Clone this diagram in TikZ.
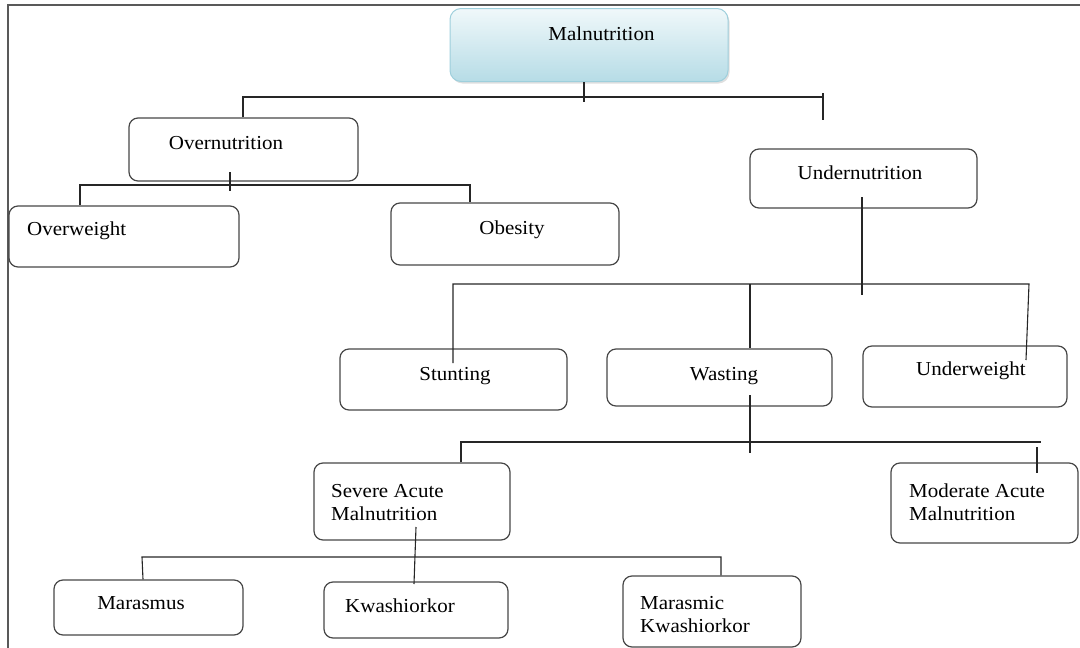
\documentclass[tikz,border=0pt]{standalone}
\usepackage{fontspec}
\setmainfont{Liberation Serif}[FakeStretch=1.06]
\usetikzlibrary{shadows}
\definecolor{topA}{HTML}{F0F8FA}
\definecolor{topB}{HTML}{B6DCE6}
\definecolor{topEdge}{HTML}{9ECFDC}
\begin{document}
\begin{tikzpicture}[x=1pt,y=-1pt,
  box/.style={draw=black!72, line width=1.2pt, rounded corners=9pt, fill=white, inner sep=0pt},
  topbox/.style={draw=topEdge, line width=1pt, rounded corners=11pt, inner sep=0pt,
     top color=topA, bottom color=topB,
     drop shadow={opacity=0.25, shadow xshift=1.5pt, shadow yshift=-2pt}},
  lbl/.style={inner sep=0pt, font=\fontsize{19.8}{23}\selectfont, align=left},
  conn/.style={line width=1.1pt, draw=black!85},
  frame/.style={line width=1.6pt, draw=black!65}]
\useasboundingbox (0,0) rectangle (1080,648);
\draw[frame] (8,648) -- (8,5) -- (1080,5);

% boxes
\node[topbox, minimum width=278pt, minimum height=73pt] (bMal) at (589,45) {};
\node[box, minimum width=229pt, minimum height=63pt] (bOver) at (243.5,149.5) {};
\node[box, minimum width=230pt, minimum height=61pt] (bOW) at (124,236.5) {};
\node[box, minimum width=228pt, minimum height=62pt] (bOb) at (505,234) {};
\node[box, minimum width=227pt, minimum height=59pt] (bUnder) at (863.5,178.5) {};
\node[box, minimum width=227pt, minimum height=61pt] (bStunt) at (453.5,379.5) {};
\node[box, minimum width=225pt, minimum height=57pt] (bWaste) at (719.5,377.5) {};
\node[box, minimum width=204pt, minimum height=61pt] (bUW) at (965,376.5) {};
\node[box, minimum width=196pt, minimum height=77pt] (bSAM) at (412,501.5) {};
\node[box, minimum width=187pt, minimum height=80pt] (bMAM) at (984.5,503) {};
\node[box, minimum width=189pt, minimum height=55pt] (bMaras) at (148.5,607.5) {};
\node[box, minimum width=184pt, minimum height=56pt] (bKwash) at (416,610) {};
\node[box, minimum width=178pt, minimum height=71pt] (bMK) at (712,611.5) {};

% labels
\node[lbl, anchor=base] (tMal) at (601.5,40) {Malnutrition};
\node[lbl, anchor=base] (tOver) at (226,149) {Overnutrition};
\node[lbl, anchor=base west] (tOW) at (27,235) {Overweight};
\node[lbl, anchor=base] (tOb) at (512,234) {Obesity};
\node[lbl, anchor=base] (tUnder) at (860,179) {Undernutrition};
\node[lbl, anchor=base] (tStunt) at (455,380) {Stunting};
\node[lbl, anchor=base] (tWaste) at (724,380) {Wasting};
\node[lbl, anchor=base] (tUW) at (971,375) {Underweight};
\node[lbl, anchor=base west] (tSAM) at (331,520) {Severe Acute\\Malnutrition};
\node[lbl, anchor=base west] (tMAM) at (909,520) {Moderate Acute\\Malnutrition};
\node[lbl, anchor=base] (tMaras) at (141,609) {Marasmus};
\node[lbl, anchor=base west] (tKwash) at (345,612) {Kwashiorkor};
\node[lbl, anchor=base west] (tMK) at (640,632) {Marasmic\\Kwashiorkor};

% junction coordinates
\coordinate (j1) at (584,97);
\coordinate (j2) at (230,185);
\coordinate (j3) at (862,284);
\coordinate (j4) at (750,442);
\coordinate (j5) at (416,557);

% Malnutrition branch
\draw[conn] (584,0 |- bMal.south) -- (584,102);
\draw[conn] (243,0 |- bOver.north) -- (243,97) -- (823,97);
\draw[conn] (823,93) -- (823,120);

% Overnutrition branch
\draw[conn] (230,172) -- (230,191);
\draw[conn] (80,0 |- bOW.north) -- (80,185) -- (470,185) -- (470,0 |- bOb.north);

% Undernutrition branch
\draw[conn] (862,197) -- (862,295);
\draw[conn] (453,363) -- (453,284) -- (1029,284) -- (1026,360);
\draw[conn] (750,284) -- (750,0 |- bWaste.north);

% Wasting branch
\draw[conn] (750,395) -- (750,453);
\draw[conn] (461,0 |- bSAM.north) -- (461,442) -- (1041,442);
\draw[conn] (1037,447) -- (1037,473);

% Severe acute branch
\draw[conn] (416,527) -- (414,584);
\draw[conn] (143,0 |- bMaras.north) -- (142,557) -- (721,557) -- (721,0 |- bMK.north);
\end{tikzpicture}
\end{document}
